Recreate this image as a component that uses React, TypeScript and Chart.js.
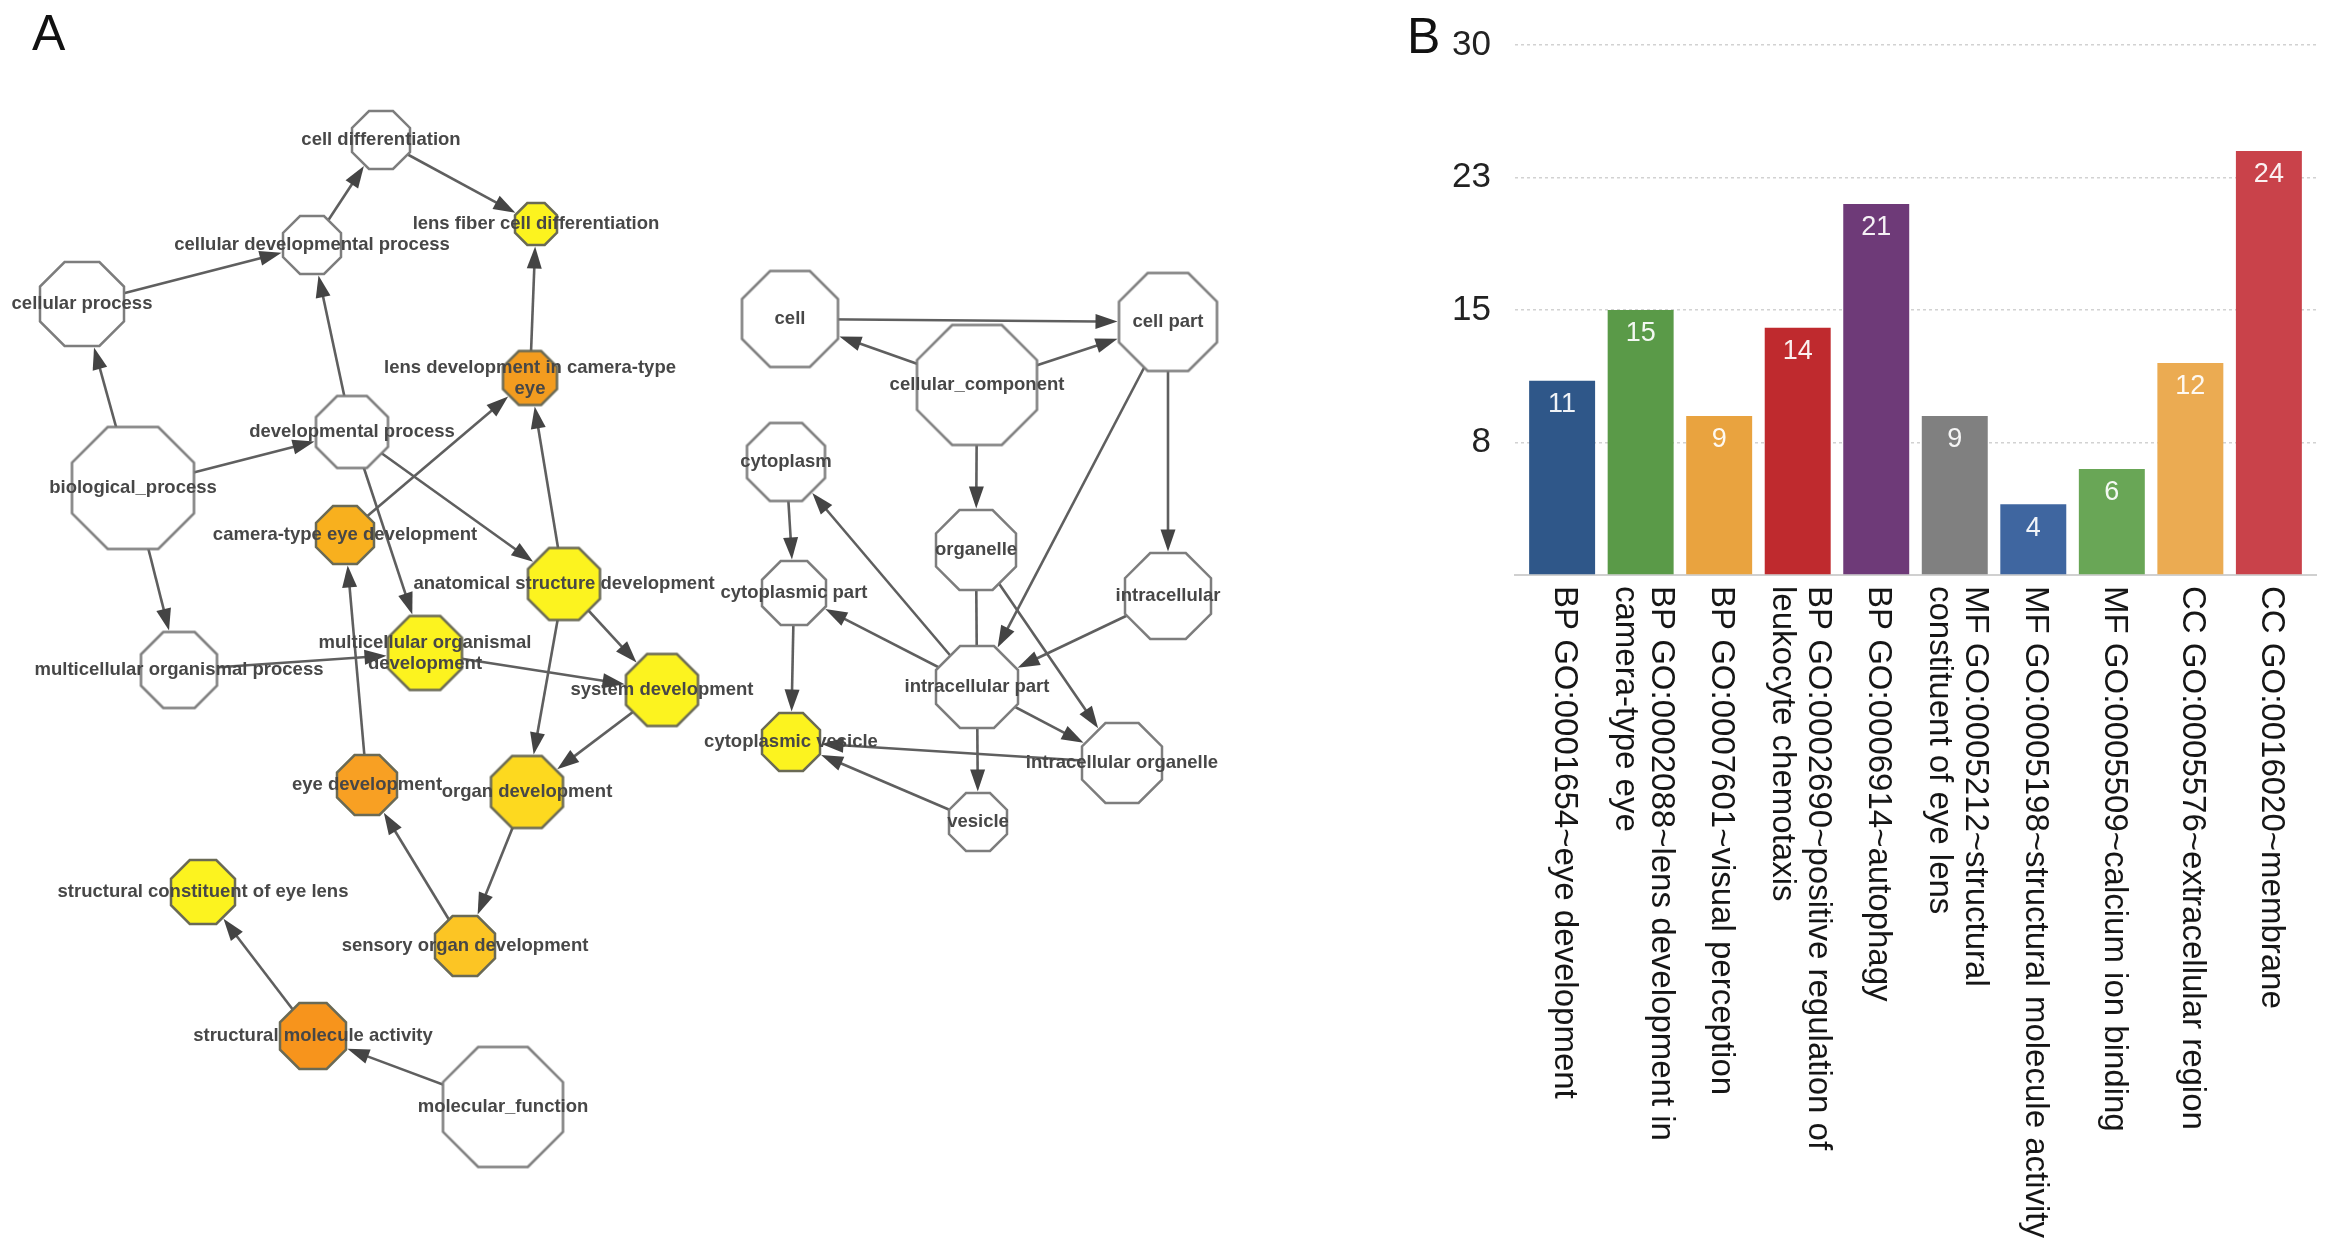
import { useEffect, useRef } from 'react';
import { Chart, registerables } from 'chart.js';

Chart.register(...registerables);
Chart.defaults.font.family = '"Liberation Sans", Arial, sans-serif';

// ---------- Panel A: GO network (BiNGO-style) ----------
const nodeNames: string[][] = [
  ['biological_process'],
  ['cellular process'],
  ['cellular developmental process'],
  ['cell differentiation'],
  ['lens fiber cell differentiation'],
  ['developmental process'],
  ['lens development in camera-type', 'eye'],
  ['camera-type eye development'],
  ['anatomical structure development'],
  ['multicellular organismal process'],
  ['multicellular organismal', 'development'],
  ['system development'],
  ['eye development'],
  ['organ development'],
  ['sensory organ development'],
  ['structural constituent of eye lens'],
  ['structural molecule activity'],
  ['molecular_function'],
  ['cellular_component'],
  ['cell'],
  ['cell part'],
  ['cytoplasm'],
  ['organelle'],
  ['cytoplasmic part'],
  ['intracellular'],
  ['intracellular part'],
  ['cytoplasmic vesicle'],
  ['intracellular organelle'],
  ['vesicle'],
];
const nodeX = [133, 82, 312, 381, 536, 352, 530, 345, 564, 179, 425, 662, 367, 527, 465, 203, 313, 503, 977, 790, 1168, 786, 976, 794, 1168, 977, 791, 1122, 978];
const nodeY = [488, 304, 245, 140, 224, 432, 378, 535, 584, 670, 653, 690, 785, 792, 946, 892, 1036, 1107, 385, 319, 322, 462, 550, 593, 596, 687, 742, 763, 822];
const nodeSize = [61, 42, 29, 29, 21, 36, 27, 29, 36, 38, 37, 36, 30, 36, 30, 32, 33, 60, 60, 48, 49, 39, 40, 32, 43, 41, 29, 40, 29];
const nodeLevel = [0, 0, 0, 0, 1, 0, 6, 4, 1, 0, 1, 1, 5, 2, 3, 1, 7, 0, 0, 0, 0, 0, 0, 0, 0, 0, 1, 0, 0];
const levelColors = ['#ffffff', '#fcf31f', '#fdd91f', '#fcc524', '#f8b01e', '#f8a023', '#f39c1f', '#f7941c'];
const edgeFrom = [3, 2, 1, 5, 6, 0, 0, 0, 7, 5, 5, 8, 8, 8, 9, 10, 11, 12, 13, 14, 16, 17,
  19, 18, 18, 18, 20, 20, 21, 25, 25, 22, 22, 24, 25, 23, 27, 28];
const edgeTo = [4, 3, 2, 2, 4, 1, 5, 9, 6, 8, 10, 6, 11, 13, 10, 11, 13, 7, 14, 12, 15, 16,
  20, 19, 20, 22, 25, 24, 23, 21, 23, 28, 27, 25, 27, 26, 26, 26];

// ---------- Panel B: GO term counts ----------
const barLabels: string[][] = [
  ['BP GO:0001654~eye development'],
  ['BP GO:0002088~lens development in', 'camera-type eye'],
  ['BP GO:0007601~visual perception'],
  ['BP GO:0002690~positive regulation of', 'leukocyte chemotaxis'],
  ['BP GO:0006914~autophagy'],
  ['MF GO:0005212~structural', 'constituent of eye lens'],
  ['MF GO:0005198~structural molecule activity'],
  ['MF GO:0005509~calcium ion binding'],
  ['CC GO:0005576~extracellular region'],
  ['CC GO:0016020~membrane'],
];
const barValues = [11, 15, 9, 14, 21, 9, 4, 6, 12, 24];
const barColors = ['#2f5789', '#5a9a48', '#e9a33f', '#bf2a2e', '#6e3a78', '#808080', '#3f66a0', '#69a656', '#ebab52', '#c9424a'];
const yTickValues = [0, 7.5, 15, 22.5, 30];
const yTickLabels = ['', '8', '15', '23', '30'];

function octagon(apothem: number, fill: string, stroke: string, lw: number): HTMLCanvasElement {
  const R = apothem / Math.cos(Math.PI / 8);
  const size = Math.ceil(2 * R + lw + 4);
  const c = document.createElement('canvas');
  c.width = size;
  c.height = size;
  const ctx = c.getContext('2d')!;
  ctx.translate(size / 2, size / 2);
  ctx.beginPath();
  for (let k = 0; k < 8; k++) {
    const a = Math.PI / 8 + (k * Math.PI) / 4;
    const px = R * Math.cos(a);
    const py = R * Math.sin(a);
    if (k === 0) ctx.moveTo(px, py);
    else ctx.lineTo(px, py);
  }
  ctx.closePath();
  ctx.fillStyle = fill;
  ctx.fill();
  ctx.lineWidth = lw;
  ctx.strokeStyle = stroke;
  ctx.stroke();
  return c;
}

const edgePlugin = {
  id: 'goEdges',
  beforeDatasetsDraw(chart: any) {
    const { ctx } = chart;
    const xs = chart.scales.x;
    const ys = chart.scales.y;
    const k = Math.abs(xs.getPixelForValue(1) - xs.getPixelForValue(0));
    ctx.save();
    edgeFrom.forEach((s, i) => {
      const t = edgeTo[i];
      const x1 = xs.getPixelForValue(nodeX[s]);
      const y1 = ys.getPixelForValue(nodeY[s]);
      const x2 = xs.getPixelForValue(nodeX[t]);
      const y2 = ys.getPixelForValue(nodeY[t]);
      const dx = x2 - x1;
      const dy = y2 - y1;
      const len = Math.hypot(dx, dy);
      const ux = dx / len;
      const uy = dy / len;
      const theta = Math.atan2(-dy, -dx);
      const step = Math.PI / 4;
      const phi = theta - Math.round(theta / step) * step;
      const rT = (nodeSize[t] * k) / Math.cos(phi) + 1.5;
      const tipX = x2 - ux * rT;
      const tipY = y2 - uy * rT;
      const L = 22;
      const W = 7.5;
      const bx = tipX - ux * L;
      const by = tipY - uy * L;
      ctx.strokeStyle = '#5f5f5f';
      ctx.lineWidth = 2.6;
      ctx.beginPath();
      ctx.moveTo(x1, y1);
      ctx.lineTo(bx + ux * 2, by + uy * 2);
      ctx.stroke();
      ctx.fillStyle = '#444444';
      ctx.beginPath();
      ctx.moveTo(tipX, tipY);
      ctx.lineTo(bx - uy * W, by + ux * W);
      ctx.lineTo(bx + uy * W, by - ux * W);
      ctx.closePath();
      ctx.fill();
    });
    ctx.restore();
  },
};

const nodeLabelPlugin = {
  id: 'goLabels',
  afterDatasetsDraw(chart: any) {
    const { ctx } = chart;
    const xs = chart.scales.x;
    const ys = chart.scales.y;
    ctx.save();
    ctx.font = 'bold 18.5px "Liberation Sans", Arial, sans-serif';
    ctx.fillStyle = '#474747';
    ctx.textAlign = 'center';
    ctx.textBaseline = 'middle';
    const lh = 21;
    nodeNames.forEach((lines, i) => {
      const px = xs.getPixelForValue(nodeX[i]);
      const py = ys.getPixelForValue(nodeY[i]);
      lines.forEach((ln, j) => {
        ctx.fillText(ln, px, py + (j - (lines.length - 1) / 2) * lh);
      });
    });
    ctx.restore();
  },
};

const valuePlugin = {
  id: 'barValues',
  afterDatasetsDraw(chart: any) {
    const { ctx } = chart;
    const meta = chart.getDatasetMeta(0);
    ctx.save();
    ctx.font = '27px "Liberation Sans", Arial, sans-serif';
    ctx.fillStyle = 'rgba(255,255,255,0.93)';
    ctx.textAlign = 'center';
    ctx.textBaseline = 'middle';
    meta.data.forEach((el: any, i: number) => {
      ctx.fillText(String(barValues[i]), el.x, el.y + 24);
    });
    ctx.restore();
  },
};

const xLabelPlugin = {
  id: 'rotatedXLabels',
  afterDraw(chart: any) {
    const { ctx, chartArea } = chart;
    const xs = chart.scales.x;
    ctx.save();
    ctx.font = '33px "Liberation Sans", Arial, sans-serif';
    ctx.fillStyle = '#161616';
    ctx.textAlign = 'left';
    ctx.textBaseline = 'middle';
    const lh = 36;
    barLabels.forEach((lines, i) => {
      const px = xs.getPixelForValue(i);
      ctx.save();
      ctx.translate(px + 2, chartArea.bottom + 11);
      ctx.rotate(Math.PI / 2);
      lines.forEach((ln, j) => {
        ctx.fillText(ln, 0, (j - (lines.length - 1) / 2) * lh);
      });
      ctx.restore();
    });
    ctx.restore();
  },
};

export default function App() {
  const refA = useRef<HTMLCanvasElement>(null);
  const refB = useRef<HTMLCanvasElement>(null);

  useEffect(() => {
    document.body.style.margin = '0';
    document.body.style.overflow = 'hidden';
    const images = nodeSize.map((a, i) =>
      octagon(a, levelColors[nodeLevel[i]], nodeLevel[i] === 0 ? '#7d7d7d' : '#6a6a55', 2.5)
    );
    const chartA = new Chart(refA.current!, {
      type: 'scatter',
      data: {
        datasets: [
          {
            data: nodeX.map((v, i) => ({ x: v, y: nodeY[i] })),
            pointStyle: images as any,
            radius: nodeSize,
            hoverRadius: nodeSize,
            clip: false,
          },
        ],
      },
      options: {
        responsive: false,
        animation: false,
        events: [],
        layout: { padding: 0, autoPadding: false },
        plugins: { legend: { display: false }, tooltip: { enabled: false } },
        scales: {
          x: { type: 'linear', min: 0, max: 1380, display: false },
          y: { type: 'linear', min: 0, max: 1254, reverse: true, display: false },
        },
      },
      plugins: [edgePlugin, nodeLabelPlugin],
    } as any);

    const chartB = new Chart(refB.current!, {
      type: 'bar',
      data: {
        datasets: [
          {
            data: barValues.map((v, i) => ({ x: i, y: v })),
            backgroundColor: barColors,
            barPercentage: 0.84,
            categoryPercentage: 1,
          },
        ],
      },
      options: {
        responsive: false,
        animation: false,
        events: [],
        layout: { padding: { left: 0, right: 17, top: 40, bottom: 679 }, autoPadding: false },
        plugins: { legend: { display: false }, tooltip: { enabled: false } },
        scales: {
          x: {
            type: 'linear',
            min: -0.6,
            max: 9.6,
            offset: false,
            afterBuildTicks: (s: any) => {
              s.ticks = barValues.map((_v, i) => ({ value: i }));
            },
            grid: { display: false, drawTicks: false, offset: false },
            ticks: { display: false },
            border: { display: true, color: '#d0d0d0', width: 2 },
          },
          y: {
            type: 'linear',
            min: 0,
            max: 30,
            afterBuildTicks: (s: any) => {
              s.ticks = yTickValues.map((v) => ({ value: v }));
            },
            afterFit: (s: any) => {
              s.width = 135;
            },
            ticks: {
              padding: 24,
              color: '#222222',
              font: { size: 35 },
              callback: (_v: any, i: number) => yTickLabels[i],
            },
            grid: { color: '#d2d2d2', lineWidth: 1.5, drawTicks: false },
            border: { display: false, dash: [3, 3] },
          },
        },
      },
      plugins: [valuePlugin, xLabelPlugin],
    } as any);

    return () => {
      chartA.destroy();
      chartB.destroy();
    };
  }, []);

  const letter: any = {
    position: 'absolute',
    fontFamily: '"Liberation Sans", Arial, sans-serif',
    fontSize: 50,
    lineHeight: 1,
    color: '#111',
  };

  return (
    <div style={{ position: 'absolute', left: 0, top: 0, width: 2333, height: 1254, background: '#ffffff', overflow: 'hidden' }}>
      <canvas ref={refA} width={1380} height={1254} style={{ position: 'absolute', left: 0, top: 0 }} />
      <canvas ref={refB} width={953} height={1254} style={{ position: 'absolute', left: 1380, top: 0 }} />
      <div style={{ ...letter, left: 32, top: 8 }}>A</div>
      <div style={{ ...letter, left: 1407, top: 11 }}>B</div>
    </div>
  );
}
